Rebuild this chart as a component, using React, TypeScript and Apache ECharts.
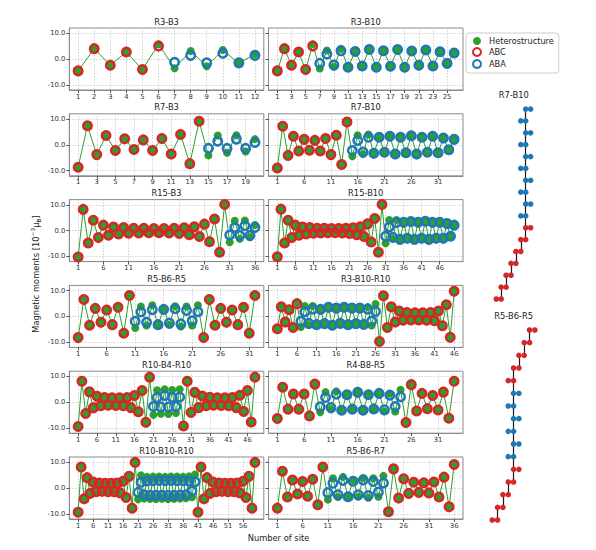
import React, { useEffect, useRef } from "react";
import * as echarts from "echarts";

const GREEN = "#2ca02c";
const RED = "#d62728";
const BLUE = "#1f77b4";
const FONT = "DejaVu Sans";

const panelTitles = [
  "R3-B3", "R3-B10", "R7-B3", "R7-B10", "R15-B3", "R15-B10",
  "R5-B6-R5", "R3-B10-R10", "R10-B4-R10", "R4-B8-R5", "R10-B10-R10", "R5-B6-R7",
];

const panelBlocks: [string, number][][] = [
  [["R", 6], ["B", 6]],
  [["R", 6], ["B", 20]],
  [["R", 14], ["B", 6]],
  [["R", 14], ["B", 20]],
  [["R", 30], ["B", 6]],
  [["R", 30], ["B", 20]],
  [["R", 10], ["B", 12], ["R", 10]],
  [["R", 6], ["B", 20], ["R", 20]],
  [["R", 20], ["B", 8], ["R", 20]],
  [["R", 8], ["B", 16], ["R", 10]],
  [["R", 20], ["B", 20], ["R", 20]],
  [["R", 10], ["B", 12], ["R", 14]],
];

const xTickLabels = [
  [1, 2, 3, 4, 5, 6, 7, 8, 9, 10, 11, 12],
  [1, 3, 5, 7, 9, 11, 13, 15, 17, 19, 21, 23, 25],
  [1, 3, 5, 7, 9, 11, 13, 15, 17, 19],
  [1, 6, 11, 16, 21, 26, 31],
  [1, 6, 11, 16, 21, 26, 31, 36],
  [1, 6, 11, 16, 21, 26, 31, 36, 41, 46],
  [1, 6, 11, 16, 21, 26, 31],
  [1, 6, 11, 16, 21, 26, 31, 36, 41, 46],
  [1, 6, 11, 16, 21, 26, 31, 36, 41, 46],
  [1, 6, 11, 16, 21, 26, 31],
  [1, 6, 11, 16, 21, 26, 31, 36, 41, 46, 51, 56],
  [1, 6, 11, 16, 21, 26, 31, 36],
];
const yTickLabels = [-10, 0, 10];

// ---- Heterostructure values (all sites) ----
const hetR3B3 = [-4.6, 4.0, -2.4, 2.7, -4.1, 5.7, -3.6, 3.1, -2.8, 3.5, -1.7, 1.9];
const hetR3B10 = [-4.6, 4.0, -2.4, 2.7, -4.3, 5.7, -3.7, 3.3, -3.0, 4.0, -3.2, 2.9, -2.7, 3.7, -3.2, 3.2, -2.8, 3.7, -3.2, 3.1, -2.4, 3.5, -2.7, 2.8, -1.8, 2.3];
const hetR7B3 = [-8.7, 7.4, -3.8, 3.6, -2.2, 2.3, -1.8, 1.9, -2.2, 2.4, -3.6, 4.0, -7.3, 9.1, -4.1, 3.6, -3.1, 3.7, -2.6, 2.2];
const hetR7B10 = [-9.0, 7.2, -4.1, 3.3, -2.4, 2.1, -2.1, 1.7, -2.4, 2.4, -3.8, 3.7, -7.6, 8.8, -4.4, 3.7, -3.6, 4.0, -3.3, 2.9, -2.9, 3.3, -3.6, 2.9, -3.1, 3.5, -3.6, 2.9, -2.9, 3.3, -3.1, 2.6, -1.9, 2.1];
const hetR15B3 = [-10.2, 8.2, -4.8, 4.0, -2.7, 2.1, -1.8, 1.4, -1.3, 1.2, -1.0, 0.9, -0.9, 0.9, -0.8, 0.8, -0.8, 0.8, -0.9, 0.9, -1.1, 1.1, -1.6, 1.5, -2.3, 2.5, -4.3, 4.5, -8.4, 10.1, -4.5, 3.8, -3.2, 3.9, -2.6, 2.2];
const hetR15B10 = [-10.1, 8.3, -4.8, 4.0, -2.7, 2.1, -1.8, 1.4, -1.3, 1.2, -1.0, 0.9, -0.9, 0.9, -0.8, 0.8, -0.8, 0.8, -0.9, 0.9, -1.1, 1.1, -1.6, 1.5, -2.3, 2.6, -4.4, 4.7, -8.4, 10.1, -4.9, 4.1, -3.2, 4.1, -3.4, 3.2, -3.0, 3.5, -3.4, 3.2, -3.0, 3.6, -3.4, 3.2, -3.0, 3.2, -3.0, 2.7, -2.2, 2.1];
const hetR5B6R5 = [-8.2, 6.5, -3.4, 3.1, -2.3, 2.5, -3.2, 3.5, -6.5, 8.1, -4.5, 3.8, -3.5, 4.3, -3.4, 3.0, -3.2, 3.9, -3.9, 3.8, -3.5, 4.3, -8.2, 6.5, -3.4, 3.1, -2.3, 2.5, -3.2, 3.5, -6.5, 8.1];
const hetR3B10R10 = [-4.8, 3.7, -2.2, 2.6, -4.3, 5.5, -4.1, 4.0, -3.2, 4.0, -3.2, 2.7, -2.8, 3.5, -3.4, 3.2, -2.7, 3.5, -3.2, 3.2, -2.8, 3.2, -3.1, 3.6, -3.5, 4.8, -9.7, 8.0, -4.3, 3.7, -2.2, 2.1, -1.5, 1.5, -1.4, 1.4, -1.4, 1.4, -1.5, 1.5, -1.7, 2.1, -3.6, 4.5, -8.1, 9.7];
const hetR10B4R10 = [-9.4, 8.1, -4.4, 4.0, -2.2, 2.3, -1.4, 1.8, -1.2, 1.7, -1.3, 1.7, -1.4, 1.8, -2.1, 2.6, -3.7, 4.5, -7.8, 9.7, -4.9, 4.6, -4.5, 5.0, -4.6, 4.7, -4.2, 5.0, -9.2, 8.1, -4.0, 3.8, -2.1, 2.4, -1.4, 1.9, -1.2, 1.7, -1.3, 1.7, -1.4, 1.8, -2.1, 2.7, -3.6, 4.5, -7.7, 9.7];
const hetR4B8R5 = [-6.3, 5.8, -2.7, 3.2, -2.7, 3.2, -5.3, 7.0, -3.9, 3.9, -2.7, 4.2, -3.1, 2.9, -2.7, 3.8, -3.1, 2.9, -2.6, 3.4, -3.6, 3.4, -3.6, 4.8, -7.9, 6.8, -3.4, 3.4, -2.5, 2.6, -3.0, 3.9, -6.2, 8.1];
const hetR10B10R10 = [-9.4, 8.1, -4.2, 4.0, -2.1, 2.3, -1.4, 1.9, -1.3, 1.8, -1.4, 1.8, -1.4, 1.9, -1.9, 2.6, -3.7, 4.5, -7.8, 9.9, -4.4, 4.9, -4.1, 4.3, -4.2, 4.4, -4.3, 4.4, -4.2, 4.3, -4.3, 4.4, -4.2, 4.4, -4.1, 4.3, -4.0, 4.5, -3.6, 5.2, -9.4, 8.1, -4.2, 4.0, -2.1, 2.3, -1.4, 1.9, -1.3, 1.8, -1.4, 1.8, -1.4, 1.9, -1.9, 2.6, -3.7, 4.5, -7.8, 9.9];
const hetR5B6R7 = [-7.8, 6.5, -3.5, 3.1, -2.3, 2.5, -3.2, 3.4, -6.5, 8.1, -4.5, 3.8, -3.5, 4.3, -3.4, 3.1, -3.4, 3.9, -3.8, 3.8, -3.4, 4.7, -9.2, 7.4, -3.9, 3.6, -2.1, 2.2, -1.7, 2.0, -1.9, 2.3, -3.5, 4.2, -7.3, 9.1];

// ---- ABC values (R sites, in order) ----
const abcR3B3 = [-4.6, 4.0, -2.4, 2.7, -4.1, 5.0];
const abcR3B10 = [-4.6, 4.0, -2.4, 2.7, -4.1, 5.0];
const abcR7B3 = [-8.7, 7.4, -3.8, 3.6, -2.2, 2.3, -1.8, 1.9, -2.2, 2.4, -3.6, 4.0, -7.3, 9.1];
const abcR7B10 = [-9.0, 7.2, -4.1, 3.3, -2.4, 2.1, -2.1, 1.7, -2.4, 2.4, -3.8, 3.7, -7.6, 8.8];
const abcR15B3 = [-10.2, 8.2, -4.8, 4.0, -2.7, 2.1, -1.8, 1.4, -1.3, 1.2, -1.0, 0.9, -0.9, 0.9, -0.8, 0.8, -0.8, 0.8, -0.9, 0.9, -1.1, 1.1, -1.6, 1.5, -2.3, 2.5, -4.3, 4.5, -8.4, 10.1];
const abcR15B10 = [-10.1, 8.3, -4.8, 4.0, -2.7, 2.1, -1.8, 1.4, -1.3, 1.2, -1.0, 0.9, -0.9, 0.9, -0.8, 0.8, -0.8, 0.8, -0.9, 0.9, -1.1, 1.1, -1.6, 1.5, -2.3, 2.6, -4.4, 4.7, -8.4, 10.1];
const abcR5B6R5 = [-8.2, 6.5, -3.4, 3.1, -2.3, 2.5, -3.2, 3.5, -6.5, 8.1, -8.2, 6.5, -3.4, 3.1, -2.3, 2.5, -3.2, 3.5, -6.5, 8.1];
const abcR3B10R10 = [-4.8, 3.7, -2.2, 2.6, -4.3, 4.9, -9.7, 8.0, -4.3, 3.7, -2.2, 2.1, -1.5, 1.5, -1.4, 1.4, -1.4, 1.4, -1.5, 1.5, -1.7, 2.1, -3.6, 4.5, -8.1, 9.7];
const abcR10B4R10 = [-9.4, 8.1, -4.4, 4.0, -2.2, 2.3, -1.4, 1.8, -1.2, 1.7, -1.3, 1.7, -1.4, 1.8, -2.1, 2.6, -3.7, 4.5, -7.8, 9.7, -9.2, 8.1, -4.0, 3.8, -2.1, 2.4, -1.4, 1.9, -1.2, 1.7, -1.3, 1.7, -1.4, 1.8, -2.1, 2.7, -3.6, 4.5, -7.7, 9.7];
const abcR4B8R5 = [-6.3, 5.8, -2.7, 3.2, -2.7, 3.2, -5.3, 7.0, -7.9, 6.8, -3.4, 3.4, -2.5, 2.6, -3.0, 3.9, -6.2, 8.1];
const abcR10B10R10 = [-9.4, 8.1, -4.2, 4.0, -2.1, 2.3, -1.4, 1.9, -1.3, 1.8, -1.4, 1.8, -1.4, 1.9, -1.9, 2.6, -3.7, 4.5, -7.8, 9.9, -9.4, 8.1, -4.2, 4.0, -2.1, 2.3, -1.4, 1.9, -1.3, 1.8, -1.4, 1.8, -1.4, 1.9, -1.9, 2.6, -3.7, 4.5, -7.8, 9.9];
const abcR5B6R7 = [-7.8, 6.5, -3.5, 3.1, -2.3, 2.5, -3.2, 3.4, -6.5, 8.1, -9.2, 7.4, -3.9, 3.6, -2.1, 2.2, -1.7, 2.0, -1.9, 2.3, -3.5, 4.2, -7.3, 9.1];

// ---- ABA values (B sites, in order) ----
const abaR3B3 = [-1.3, 1.4, -1.5, 2.2, -1.5, 1.4];
const abaR3B10 = [-1.7, 1.9, -2.3, 3.2, -3.2, 2.9, -2.7, 3.7, -3.2, 3.2, -2.8, 3.7, -3.2, 3.1, -2.4, 3.5, -2.7, 2.8, -1.7, 2.3];
const abaR7B3 = [-1.4, 1.4, -1.4, 2.2, -1.4, 0.9];
const abaR7B10 = [-2.2, 1.7, -2.8, 2.9, -3.3, 2.9, -2.9, 3.3, -3.6, 2.9, -3.1, 3.5, -3.6, 2.9, -2.9, 3.3, -3.1, 2.6, -1.9, 2.1];
const abaR15B3 = [-1.7, 1.2, -1.9, 1.9, -1.9, 1.2];
const abaR15B10 = [-2.2, 1.4, -2.6, 3.1, -3.4, 3.2, -3.0, 3.5, -3.4, 3.2, -3.0, 3.6, -3.4, 3.2, -3.0, 3.2, -3.0, 2.7, -2.2, 2.1];
const abaR5B6R5 = [-1.9, 1.7, -2.3, 2.6, -3.2, 2.7, -2.6, 3.0, -2.9, 2.3, -1.7, 1.8];
const abaR3B10R10 = [-1.9, 1.8, -2.7, 2.8, -3.2, 2.7, -2.8, 3.5, -3.4, 3.2, -2.7, 3.5, -3.2, 3.2, -2.8, 3.2, -3.1, 2.8, -1.8, 1.9];
const abaR10B4R10 = [-1.7, 1.8, -1.9, 2.6, -1.9, 1.9, -1.7, 2.0];
const abaR4B8R5 = [-1.8, 1.8, -2.1, 3.1, -3.1, 2.9, -2.7, 3.8, -3.1, 2.9, -2.6, 3.4, -2.9, 2.7, -1.7, 2.1];
const abaR10B10R10 = [-1.7, 2.2, -2.6, 2.7, -2.8, 2.8, -2.8, 2.9, -2.8, 2.8, -2.8, 2.9, -2.8, 2.8, -2.7, 2.8, -2.6, 2.6, -1.2, 2.4];
const abaR5B6R7 = [-1.8, 1.8, -2.6, 2.9, -3.4, 2.6, -2.6, 3.1, -2.9, 2.5, -1.6, 1.9];

const hetAll = [hetR3B3, hetR3B10, hetR7B3, hetR7B10, hetR15B3, hetR15B10, hetR5B6R5, hetR3B10R10, hetR10B4R10, hetR4B8R5, hetR10B10R10, hetR5B6R7];
const abcAll = [abcR3B3, abcR3B10, abcR7B3, abcR7B10, abcR15B3, abcR15B10, abcR5B6R5, abcR3B10R10, abcR10B4R10, abcR4B8R5, abcR10B10R10, abcR5B6R7];
const abaAll = [abaR3B3, abaR3B10, abaR7B3, abaR7B10, abaR15B3, abaR15B10, abaR5B6R5, abaR3B10R10, abaR10B4R10, abaR4B8R5, abaR10B10R10, abaR5B6R7];

// ---- Stacking diagrams (layer shift from bottom to top, layer kind) ----
const stackTitles = ["R7-B10", "R5-B6-R5"];
const stackR7B10Shift = [0, 1, 2, 3, 4, 5, 6, 5, 6, 5, 6, 5, 6, 5, 6, 5, 6];
const stackR7B10Kind = ["R", "R", "R", "R", "R", "R", "R", "B", "B", "B", "B", "B", "B", "B", "B", "B", "B"];
const stackR5B6R5Shift = [0, 1, 2, 3, 4, 3, 4, 3, 4, 3, 4, 3, 4, 5, 6, 7];
const stackR5B6R5Kind = ["R", "R", "R", "R", "R", "B", "B", "B", "B", "B", "B", "R", "R", "R", "R", "R"];

// ---- layout ----
const COL_LEFT = [69.3, 268.5];
const PANEL_W = 194.5;
const ROW_TOP0 = 28;
const ROW_STEP = 85.8;
const PANEL_H = 62;

function buildOption() {
  const grid: any[] = [];
  const xAxis: any[] = [];
  const yAxis: any[] = [];
  const series: any[] = [];
  const graphic: any[] = [];

  panelTitles.forEach((title, i) => {
    const col = i % 2;
    const row = Math.floor(i / 2);
    const left = COL_LEFT[col];
    const top = ROW_TOP0 + ROW_STEP * row;
    const het = hetAll[i];
    const n = het.length;
    grid.push({
      left, top, width: PANEL_W, height: PANEL_H,
      show: true, borderColor: "#8a8a8a", borderWidth: 1, backgroundColor: "transparent",
    });
    const xt = xTickLabels[i];
    xAxis.push({
      gridIndex: i, type: "value",
      min: 1 - 0.05 * (n - 1), max: n + 0.05 * (n - 1),
      axisLine: { show: true, onZero: false, lineStyle: { color: "#8a8a8a", width: 1 } },
      axisTick: { show: true, customValues: xt, length: 3, lineStyle: { color: "#555" } },
      axisLabel: { show: true, customValues: xt, fontSize: 6.8, margin: 3, color: "#333", fontFamily: FONT },
      splitLine: { show: true, lineStyle: { color: "#c8c8c8", type: [1.5, 1.5], width: 0.8 } },
    });
    yAxis.push({
      gridIndex: i, type: "value", min: -12, max: 12,
      axisLine: { show: true, onZero: false, lineStyle: { color: "#8a8a8a", width: 1 } },
      axisTick: { show: true, customValues: yTickLabels, length: 3, lineStyle: { color: "#555" } },
      axisLabel: {
        show: col === 0, customValues: yTickLabels, fontSize: 6.8, margin: 4, color: "#333", fontFamily: FONT,
        formatter: (v: number) => v.toFixed(1),
      },
      splitLine: { show: true, lineStyle: { color: "#c8c8c8", type: [1.5, 1.5], width: 0.8 } },
    });

    const hetData = het.map((v, k) => [k + 1, v]);
    const redData: number[][] = [];
    const blueData: number[][] = [];
    let site = 1, ai = 0, bi = 0;
    for (const [kind, len] of panelBlocks[i]) {
      for (let j = 0; j < len; j++, site++) {
        if (kind === "R") redData.push([site, abcAll[i][ai++]]);
        else blueData.push([site, abaAll[i][bi++]]);
      }
    }
    series.push({
      type: "line", name: "Heterostructure", xAxisIndex: i, yAxisIndex: i, data: hetData,
      symbol: "circle", symbolSize: 8, showSymbol: true, silent: true, z: 2,
      itemStyle: { color: GREEN }, lineStyle: { color: GREEN, width: 1 },
    });
    series.push({
      type: "scatter", name: "ABC", xAxisIndex: i, yAxisIndex: i, data: redData,
      symbol: "circle", symbolSize: 8.5, silent: true, z: 3,
      itemStyle: { color: "rgba(0,0,0,0)", borderColor: RED, borderWidth: 2.5, opacity: 1 },
    });
    series.push({
      type: "scatter", name: "ABA", xAxisIndex: i, yAxisIndex: i, data: blueData,
      symbol: "circle", symbolSize: 8.5, silent: true, z: 3,
      itemStyle: { color: "rgba(0,0,0,0)", borderColor: BLUE, borderWidth: 2.5, opacity: 1 },
    });
    graphic.push({
      type: "text", x: left + PANEL_W / 2, y: top - 6.5, silent: true,
      style: { text: title, fontSize: 8.3, fill: "#222", fontFamily: FONT, textAlign: "center", textVerticalAlign: "middle" },
    });
  });

  // stacking diagrams
  const stacks = [
    { shift: stackR7B10Shift, kind: stackR7B10Kind, left: 486.5, top: 97.2, width: 49, height: 213.7, ymax: 18, titleY: 95 },
    { shift: stackR5B6R5Shift, kind: stackR5B6R5Kind, left: 481.6, top: 317.3, width: 53.3, height: 215.4, ymax: 17, titleY: 315.7 },
  ];
  stacks.forEach((s, si) => {
    const gi = 12 + si;
    grid.push({ left: s.left, top: s.top, width: s.width, height: s.height, show: false });
    xAxis.push({ gridIndex: gi, type: "value", min: -2, max: 8, show: false });
    yAxis.push({ gridIndex: gi, type: "value", min: 0, max: s.ymax, show: false });
    const red: number[][] = [];
    const blue: number[][] = [];
    const bonds: any[] = [];
    s.shift.forEach((k, li) => {
      const L = li + 1;
      const tgt = s.kind[li] === "R" ? red : blue;
      tgt.push([k, L], [k + 1, L]);
      if (li + 1 < s.shift.length) {
        const xb = Math.max(k, s.shift[li + 1]);
        bonds.push({ coords: [[xb, L], [xb, L + 1]] });
      }
    });
    series.push({
      type: "lines", coordinateSystem: "cartesian2d", xAxisIndex: gi, yAxisIndex: gi,
      data: bonds, silent: true, z: 1, polyline: false,
      lineStyle: { color: "#1a1a1a", width: 1.2, opacity: 1 },
    });
    series.push({
      type: "scatter", name: "stackR" + si, xAxisIndex: gi, yAxisIndex: gi, data: red,
      symbol: "circle", symbolSize: 5.6, silent: true, z: 2, itemStyle: { color: RED, opacity: 1 },
    });
    series.push({
      type: "scatter", name: "stackB" + si, xAxisIndex: gi, yAxisIndex: gi, data: blue,
      symbol: "circle", symbolSize: 5.6, silent: true, z: 2, itemStyle: { color: BLUE, opacity: 1 },
    });
    graphic.push({
      type: "text", x: 513.7, y: s.titleY, silent: true,
      style: { text: stackTitles[si], fontSize: 8.3, fill: "#222", fontFamily: FONT, textAlign: "center", textVerticalAlign: "middle" },
    });
  });

  graphic.push({
    type: "text", x: 278.5, y: 538, silent: true,
    style: { text: "Number of site", fontSize: 8.3, fill: "#222", fontFamily: FONT, textAlign: "center", textVerticalAlign: "middle" },
  });
  graphic.push({
    type: "text", x: 36, y: 274, rotation: Math.PI / 2, silent: true,
    style: {
      text: "{a|Magnetic moments [10}{s|−3}{a|μ}{b|B}{a|]}",
      fontSize: 8.3, fill: "#222", fontFamily: FONT, textAlign: "center", textVerticalAlign: "middle",
      rich: {
        a: { fontSize: 8.3, fontFamily: FONT, fill: "#222", lineHeight: 12, verticalAlign: "middle" },
        s: { fontSize: 5.8, fontFamily: FONT, fill: "#222", lineHeight: 12, verticalAlign: "top", padding: [0, 0, 4, 0] },
        b: { fontSize: 5.8, fontFamily: FONT, fill: "#222", lineHeight: 12, verticalAlign: "bottom", padding: [4, 0, 0, 0] },
      },
    },
  });

  return {
    animation: false,
    backgroundColor: "#ffffff",
    textStyle: { fontFamily: FONT },
    grid, xAxis, yAxis, series, graphic,
    legend: {
      left: 466, top: 33, orient: "vertical", selectedMode: false,
      itemWidth: 14, itemHeight: 8, itemGap: 2,
      padding: [4, 5, 4, 6],
      borderColor: "#cccccc", borderWidth: 1, borderRadius: 3, backgroundColor: "#fff",
      textStyle: { fontSize: 8.2, color: "#222", fontFamily: FONT },
      data: [
        { name: "Heterostructure", icon: "circle", itemStyle: { color: GREEN, borderWidth: 0 } },
        { name: "ABC", icon: "circle", itemStyle: { color: "rgba(0,0,0,0)", borderColor: RED, borderWidth: 2 } },
        { name: "ABA", icon: "circle", itemStyle: { color: "rgba(0,0,0,0)", borderColor: BLUE, borderWidth: 2 } },
      ],
    },
  };
}

export default function App() {
  const ref = useRef<HTMLDivElement>(null);
  useEffect(() => {
    if (!ref.current) return;
    const chart = echarts.init(ref.current, null, { renderer: "svg" });
    chart.setOption(buildOption() as any);
    return () => chart.dispose();
  }, []);
  return <div ref={ref} style={{ position: "absolute", left: 0, top: 0, width: 596, height: 550 }} />;
}
